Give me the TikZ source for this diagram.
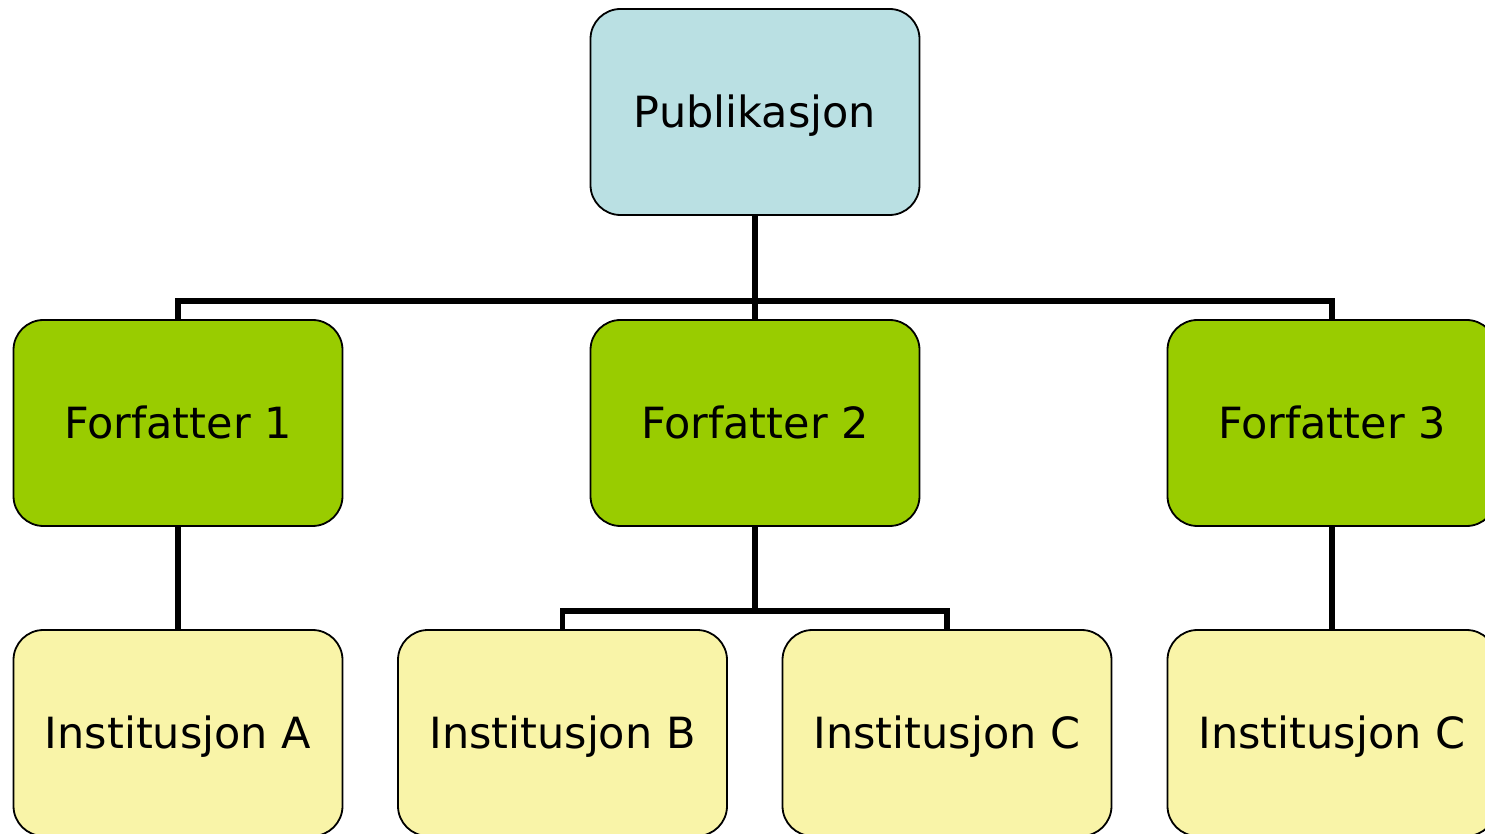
\documentclass[tikz,border=0pt]{standalone}
\usepackage{fontspec}
\setmainfont{DejaVu Sans}
\definecolor{pubfill}{HTML}{BAE0E3}
\definecolor{authfill}{HTML}{99CC00}
\definecolor{instfill}{HTML}{F9F4A8}
\begin{document}
\begin{tikzpicture}[x=0.5pt,y=-0.5pt,
  box/.style={draw=black,line width=0.9pt,rounded corners=15pt,minimum width=164.5pt,minimum height=103pt,inner sep=0pt,text height=15.7pt,text depth=0pt,font=\fontsize{21.5pt}{25pt}\selectfont},
  pubbox/.style={box,fill=pubfill},
  authbox/.style={box,fill=authfill},
  instbox/.style={box,fill=instfill},
  conn/.style={line width=2.7pt,line join=miter}]
\useasboundingbox (0,0) rectangle (1485,834);
\node[pubbox] (pub) at (755,112) {Publikasjon};
\node[authbox] (f1) at (178,423) {Forfatter 1};
\node[authbox] (f2) at (755,423) {Forfatter 2};
\node[authbox] (f3) at (1332,423) {Forfatter 3};
\node[instbox] (ia) at (178,733) {Institusjon A};
\node[instbox] (ib) at (562.5,733) {Institusjon B};
\node[instbox] (ic) at (947,733) {Institusjon C};
\node[instbox] (id) at (1332,733) {Institusjon C};
\coordinate (bus1) at (755,301);
\coordinate (bus2) at (755,611);
\draw[conn] (pub.south) -- (bus1);
\draw[conn] (f1.north) |- (bus1) -| (f3.north);
\draw[conn] (f2.north) -- (bus1);
\draw[conn] (f1.south) -- (ia.north);
\draw[conn] (f2.south) -- (bus2);
\draw[conn] (ib.north) |- (bus2) -| (ic.north);
\draw[conn] (f3.south) -- (id.north);
\end{tikzpicture}
\end{document}
